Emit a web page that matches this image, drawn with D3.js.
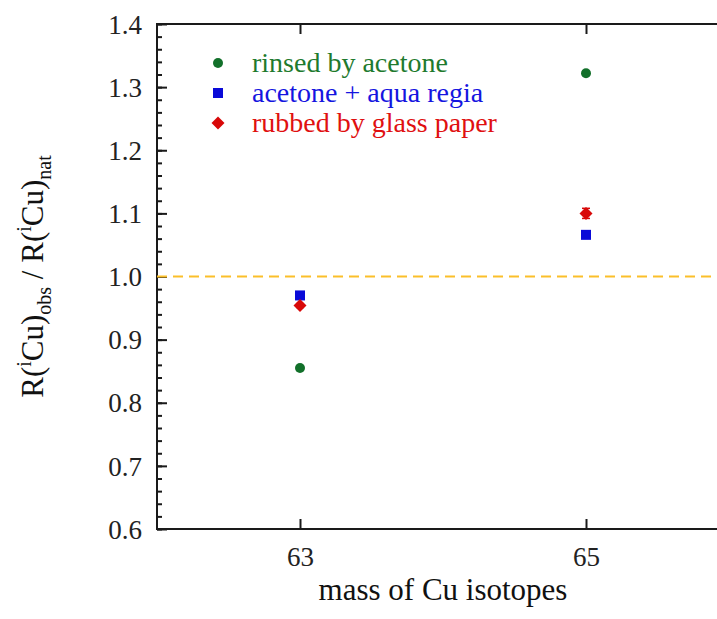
<!DOCTYPE html>
<html>
<head>
<meta charset="utf-8">
<script src="https://cdn.jsdelivr.net/npm/d3@7"></script>
<style>
  html, body { margin: 0; padding: 0; background: #fff; }
  svg { display: block; }
</style>
</head>
<body>
<svg id="chart" width="717" height="619"></svg>
<script>
// ---- data ----
const isotopes = [63, 65];
const xTickValues = [63, 65];
const yTickValues = [0.6, 0.7, 0.8, 0.9, 1.0, 1.1, 1.2, 1.3, 1.4];
const seriesNames = ["rinsed by acetone", "acetone + aqua regia", "rubbed by glass paper"];
const rinsedValues = [0.855, 1.322];
const aquaRegiaValues = [0.970, 1.066];
const glassPaperValues = [0.954, 1.100];
const rinsedErrors = [0.003, 0.003];
const aquaRegiaErrors = [0.003, 0.004];
const glassPaperErrors = [0.003, 0.008];
const referenceLevel = 1.0;

(function () {
const SERIF = "'Liberation Serif', 'Times New Roman', serif";
const series = [
  { name: seriesNames[0], values: rinsedValues, errors: rinsedErrors, shape: "circle", color: "#12702a", text: "#1e7a2e" },
  { name: seriesNames[1], values: aquaRegiaValues, errors: aquaRegiaErrors, shape: "square", color: "#0a0ad8", text: "#1515e0" },
  { name: seriesNames[2], values: glassPaperValues, errors: glassPaperErrors, shape: "diamond", color: "#d80808", text: "#e01010" }
];

const svg = d3.select("#chart").style("font-family", SERIF);
const pLeft = 157, pRight = 729, pTop = 24, pBottom = 529;
const x = d3.scaleLinear().domain([62, 66]).range([pLeft, pRight]);
const y = d3.scaleLinear().domain([0.6, 1.4]).range([pBottom, pTop]);
const axisColor = "#1a1a1a";

svg.append("rect")
  .attr("x", pLeft).attr("y", pTop)
  .attr("width", pRight - pLeft).attr("height", pBottom - pTop)
  .attr("fill", "none").attr("stroke", axisColor).attr("stroke-width", 2);

const yMinor = d3.range(0.6, 1.4001, 0.02).map(v => +v.toFixed(2));
const gyMinor = svg.append("g").attr("transform", `translate(${pLeft},0)`)
  .call(d3.axisRight(y).tickValues(yMinor).tickSize(5).tickFormat(""));
const gy = svg.append("g").attr("transform", `translate(${pLeft},0)`)
  .call(d3.axisRight(y).tickValues(yTickValues).tickSize(10).tickFormat(""));
const gyR = svg.append("g").attr("transform", `translate(${pRight},0)`)
  .call(d3.axisLeft(y).tickValues(yTickValues).tickSize(10).tickFormat(""));
const gyRMinor = svg.append("g").attr("transform", `translate(${pRight},0)`)
  .call(d3.axisLeft(y).tickValues(yMinor).tickSize(5).tickFormat(""));
const gyLab = svg.append("g").attr("transform", `translate(${pLeft},0)`)
  .call(d3.axisLeft(y).tickValues(yTickValues).tickSize(0).tickPadding(15).tickFormat(d3.format(".1f")));

const gx = svg.append("g").attr("transform", `translate(0,${pBottom})`)
  .call(d3.axisTop(x).tickValues(xTickValues).tickSize(10).tickFormat(""));
const gxTop = svg.append("g").attr("transform", `translate(0,${pTop})`)
  .call(d3.axisBottom(x).tickValues(xTickValues).tickSize(10).tickFormat(""));
const gxLab = svg.append("g").attr("transform", `translate(0,${pBottom})`)
  .call(d3.axisBottom(x).tickValues(xTickValues).tickSize(0).tickPadding(18).tickFormat(d3.format("d")));

[gyMinor, gy, gyR, gyRMinor, gyLab, gx, gxTop, gxLab].forEach(g => {
  g.attr("font-family", null);
  g.select(".domain").remove();
  g.selectAll("line").attr("stroke", axisColor).attr("stroke-width", 2);
});
gyLab.selectAll("text").attr("font-size", 27).attr("fill", "#222")
  .style("font-family", SERIF).attr("dy", "0.34em");
gxLab.selectAll("text").attr("font-size", 27).attr("fill", "#222")
  .style("font-family", SERIF).attr("dy", "0.7em");

svg.append("line")
  .attr("x1", x(62)).attr("x2", x(66))
  .attr("y1", y(referenceLevel)).attr("y2", y(referenceLevel))
  .attr("stroke", "#fbbf2a").attr("stroke-width", 2.2)
  .attr("stroke-dasharray", "10,6");

function drawMarker(g, shape, cx, cy, color) {
  if (shape === "circle") {
    g.append("circle").attr("cx", cx).attr("cy", cy).attr("r", 5).attr("fill", color);
  } else if (shape === "square") {
    g.append("rect").attr("x", cx - 5).attr("y", cy - 5).attr("width", 10).attr("height", 10).attr("fill", color);
  } else {
    g.append("path").attr("d", `M${cx},${cy - 6.5}L${cx + 6.5},${cy}L${cx},${cy + 6.5}L${cx - 6.5},${cy}Z`).attr("fill", color);
  }
}

const pts = svg.append("g");
series.forEach(s => {
  isotopes.forEach((iso, i) => {
    const cx = x(iso), cy = y(s.values[i]);
    const e = s.errors[i];
    const g = pts.append("g");
    const y0 = y(s.values[i] - e), y1 = y(s.values[i] + e);
    g.append("line").attr("x1", cx).attr("x2", cx).attr("y1", y0).attr("y2", y1)
      .attr("stroke", s.color).attr("stroke-width", 1.5);
    [y0, y1].forEach(yy => g.append("line").attr("x1", cx - 4).attr("x2", cx + 4)
      .attr("y1", yy).attr("y2", yy).attr("stroke", s.color).attr("stroke-width", 1.5));
    drawMarker(g, s.shape, cx, cy, s.color);
  });
});

const legend = svg.append("g");
series.forEach((s, i) => {
  const ly = 63 + i * 30;
  drawMarker(legend, s.shape, 218, ly, s.color);
  legend.append("text").attr("x", 252).attr("y", ly).attr("dy", "0.32em")
    .style("font-family", SERIF)
    .attr("font-size", 28).attr("fill", s.text).text(s.name);
});

svg.append("text")
  .attr("x", (pLeft + pRight) / 2).attr("y", 600)
  .style("font-family", SERIF)
  .attr("text-anchor", "middle").attr("font-size", 31).attr("fill", "#111")
  .text("mass of Cu isotopes");

const yt = svg.append("text")
  .attr("transform", `translate(43,${(pTop + pBottom) / 2}) rotate(-90)`)
  .style("font-family", SERIF)
  .attr("text-anchor", "middle").attr("font-size", 31).attr("fill", "#111");
yt.append("tspan").text("R(");
yt.append("tspan").attr("font-size", 20).attr("dy", -12).text("i");
yt.append("tspan").attr("dy", 12).text("Cu)");
yt.append("tspan").attr("font-size", 20).attr("dy", 8).text("obs");
yt.append("tspan").attr("dy", -8).text(" / R(");
yt.append("tspan").attr("font-size", 20).attr("dy", -12).text("i");
yt.append("tspan").attr("dy", 12).text("Cu)");
yt.append("tspan").attr("font-size", 20).attr("dy", 8).text("nat");
})();
</script>
</body>
</html>
